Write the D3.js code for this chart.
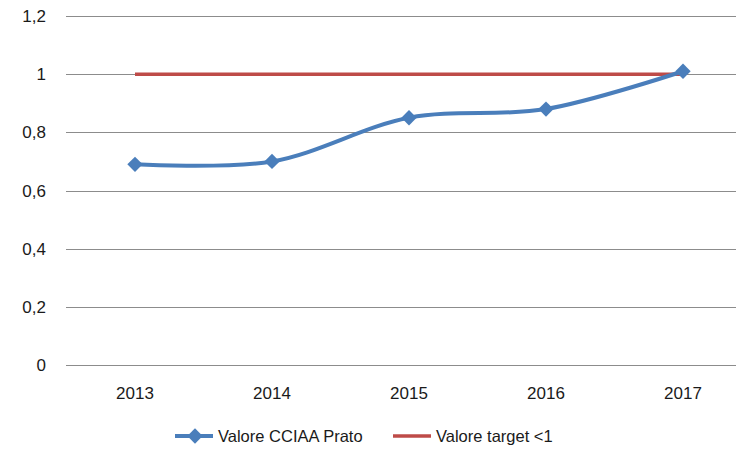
<!DOCTYPE html>
<html>
<head>
<meta charset="utf-8">
<script src="https://cdn.jsdelivr.net/npm/d3@7"></script>
<style>
  body { margin: 0; background: #fff; }
  text { font-family: "Liberation Sans", Arial, sans-serif; fill: #1a1a1a; }
</style>
</head>
<body>
<div id="chart"></div>
<script>
var years = ["2013", "2014", "2015", "2016", "2017"];
var cciaaValues = [0.69, 0.70, 0.85, 0.88, 1.01];
var targetValues = [1, 1, 1, 1, 1];
var yTicks = [0, 0.2, 0.4, 0.6, 0.8, 1, 1.2];
var seriesNames = ["Valore CCIAA Prato", "Valore target <1"];

var width = 736, height = 450,
    blue = "#4A7EBB", red = "#BE4B48";

var svg = d3.select("#chart").append("svg")
    .attr("width", width)
    .attr("height", height);

var x = d3.scalePoint()
    .domain(years)
    .range([135, 683]);

var y = d3.scaleLinear()
    .domain([0, 1.2])
    .range([365, 16]);

// gridlines
svg.append("g")
    .selectAll("line")
    .data(yTicks)
    .enter()
    .append("line")
    .attr("x1", 66)
    .attr("x2", width)
    .attr("y1", function (d) { return Math.round(y(d)) + 0.5; })
    .attr("y2", function (d) { return Math.round(y(d)) + 0.5; })
    .attr("stroke", "#8c8c8c")
    .attr("stroke-width", 1);

// y labels
svg.append("g")
    .selectAll("text")
    .data(yTicks)
    .enter()
    .append("text")
    .attr("x", 46)
    .attr("y", function (d) { return y(d) + 6; })
    .attr("text-anchor", "end")
    .style("font-size", "17px")
    .text(function (d) { return d3.format(".1~f")(d).replace(".", ","); });

// x labels
svg.append("g")
    .selectAll("text")
    .data(years)
    .enter()
    .append("text")
    .attr("x", function (d) { return x(d); })
    .attr("y", 399)
    .attr("text-anchor", "middle")
    .style("font-size", "17px")
    .text(function (d) { return d; });

// target line
var straight = d3.line()
    .x(function (d, i) { return x(years[i]); })
    .y(function (d) { return y(d); });

svg.append("path")
    .datum(targetValues)
    .attr("d", straight)
    .attr("fill", "none")
    .attr("stroke", red)
    .attr("stroke-width", 3.5);

// CCIAA smoothed line
var smooth = d3.line()
    .curve(d3.curveCatmullRom.alpha(0.5))
    .x(function (d, i) { return x(years[i]); })
    .y(function (d) { return y(d); });

svg.append("path")
    .datum(cciaaValues)
    .attr("d", smooth)
    .attr("fill", "none")
    .attr("stroke", blue)
    .attr("stroke-width", 4);

var diamond = d3.symbol().type(d3.symbolDiamond2).size(150);

svg.append("g")
    .selectAll("path")
    .data(cciaaValues)
    .enter()
    .append("path")
    .attr("d", diamond)
    .attr("transform", function (d, i) {
        return "translate(" + x(years[i]) + "," + y(d) + ")";
    })
    .attr("fill", blue);

// legend
var legend = svg.append("g").attr("transform", "translate(0,436)");

legend.append("line")
    .attr("x1", 175).attr("x2", 213)
    .attr("stroke", blue).attr("stroke-width", 4);
legend.append("path")
    .attr("d", diamond)
    .attr("transform", "translate(195,0)")
    .attr("fill", blue);
legend.append("text")
    .attr("x", 218).attr("y", 6)
    .style("font-size", "16.5px")
    .text(seriesNames[0]);

legend.append("line")
    .attr("x1", 393).attr("x2", 431)
    .attr("stroke", red).attr("stroke-width", 3.5);
legend.append("text")
    .attr("x", 436).attr("y", 6)
    .style("font-size", "16.5px")
    .text(seriesNames[1]);
</script>
</body>
</html>
